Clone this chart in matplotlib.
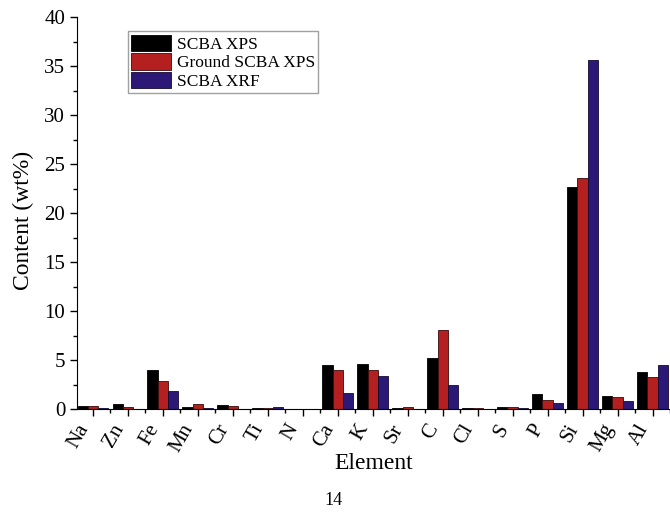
import numpy as np
import matplotlib.pyplot as plt
from matplotlib.ticker import MultipleLocator, FixedLocator

elements = ["Na", "Zn", "Fe", "Mn", "Cr", "Ti", "N", "Ca", "K",
            "Sr", "C", "Cl", "S", "P", "Si", "Mg", "Al"]

scba_xps = [0.30, 0.50, 3.95, 0.25, 0.40, 0.15, 0.02, 4.45, 4.55,
            0.10, 5.25, 0.10, 0.20, 1.55, 22.70, 1.35, 3.75]
ground_xps = [0.35, 0.20, 2.90, 0.55, 0.35, 0.10, 0.05, 3.95, 4.00,
              0.22, 8.05, 0.10, 0.25, 0.95, 23.55, 1.25, 3.25]
scba_xrf = [0.12, 0.05, 1.85, 0.10, 0.05, 0.20, 0.02, 1.65, 3.35,
            0.05, 2.45, 0.05, 0.10, 0.62, 35.65, 0.85, 4.45]

plt.rcParams["font.family"] = ["Liberation Serif", "DejaVu Serif"]

fig = plt.figure(figsize=(6.7, 5.14), dpi=100)
ax = fig.add_axes([77 / 670, 105 / 514, 593 / 670, 392 / 514])

x = np.arange(len(elements))
w = 0.29
ax.bar(x - w, scba_xps, w, color="#000000", edgecolor="#000000", lw=0.6,
       label="SCBA XPS")
ax.bar(x, ground_xps, w, color="#B3201F", edgecolor="#3a0a0a", lw=0.6,
       label="Ground SCBA XPS")
ax.bar(x + w, scba_xrf, w, color="#2B1877", edgecolor="#120a30", lw=0.6,
       label="SCBA XRF")

ax.set_xlim(-0.45, 16.5)
ax.set_ylim(0, 40)

ax.spines["top"].set_visible(False)
ax.spines["right"].set_visible(False)

ax.set_xticks(x)
ax.set_xticklabels(elements, rotation=60, ha="right", fontsize=15)
ax.xaxis.set_minor_locator(FixedLocator(x + 0.5))
ax.yaxis.set_major_locator(MultipleLocator(5))
ax.yaxis.set_minor_locator(MultipleLocator(2.5))
ax.tick_params(axis="both", which="major", direction="out", length=5,
               width=1, labelsize=15)
ax.tick_params(axis="both", which="minor", direction="out", length=3, width=1)

ax.set_xlabel("Element", fontsize=17)
ax.set_ylabel("Content (wt%)", fontsize=17)
ax.xaxis.set_label_coords(0.5, -0.113)
ax.yaxis.set_label_coords(-0.072, 0.48)

leg = ax.legend(loc="upper left", bbox_to_anchor=(0.086, 0.964),
                borderaxespad=0, fontsize=12.5, frameon=True, fancybox=False,
                handlelength=2.3, handleheight=1.1, labelspacing=0.02,
                handletextpad=0.3, borderpad=0.2)
leg.get_frame().set_edgecolor("#888888")
leg.get_frame().set_linewidth(1)

fig.text(0.497, 0.027, "14", fontsize=13, ha="center", va="center")

fig.savefig("out.png", dpi=100)
